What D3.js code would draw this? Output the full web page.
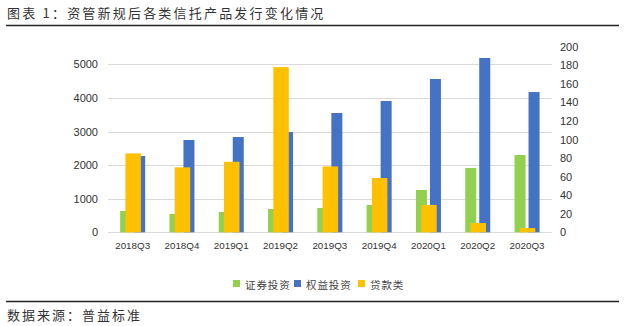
<!DOCTYPE html>
<html><head><meta charset="utf-8">
<script src="https://cdn.jsdelivr.net/npm/d3@7"></script>
<style>body{margin:0;background:#fff}svg{display:block}</style>
</head><body>
<svg id="c" width="625" height="326"></svg>
<script>
const categories = ['2018Q3','2018Q4','2019Q1','2019Q2','2019Q3','2019Q4','2020Q1','2020Q2','2020Q3'];
const securities = [634, 545, 604, 693, 723, 812, 1259, 1914, 2300];   // 证券投资 (left axis)
const equity = [2271, 2747, 2836, 2985, 3551, 3907, 4562, 5188, 4174]; // 权益投资 (left axis)
const loans = [85, 70, 76, 178, 71, 58.5, 29.5, 10, 4.6];              // 贷款类 (right axis)
const leftTicks = [0, 1000, 2000, 3000, 4000, 5000];
const rightTicks = [0, 20, 40, 60, 80, 100, 120, 140, 160, 180, 200];
const seriesNames = ['证券投资', '权益投资', '贷款类'];
const colors = ['#92d050', '#4472c4', '#ffc000'];

const svg = d3.select('#c');
const font = 'Liberation Sans, Arial, sans-serif';
const cjk = '"Noto Sans CJK SC", sans-serif';

// title
svg.append('text').attr('x', 7).attr('y', 17.5).attr('font-family', cjk).attr('font-size', 13)
  .attr('letter-spacing', 2.2).attr('fill', '#333').text('图表 1：资管新规后各类信托产品发行变化情况');
svg.append('line').attr('x1', 6).attr('x2', 619).attr('y1', 25.5).attr('y2', 25.5).attr('stroke', '#222').attr('stroke-width', 1.3);

const x = d3.scaleBand().domain(categories).range([108, 551.7]).padding(0);
const x1 = d3.scaleBand().domain([0, 1]).range([-12.5, 12.5]).paddingInner(0.2143);
const yL = d3.scaleLinear().domain([0, 5500]).range([232.3, 47.5]);
const yR = d3.scaleLinear().domain([0, 200]).range([232.3, 46.7]);

// gridlines
svg.append('g').selectAll('line').data(leftTicks).join('line')
  .attr('x1', 108).attr('x2', 551.7)
  .attr('y1', d => Math.round(yL(d)) + 0.5).attr('y2', d => Math.round(yL(d)) + 0.5)
  .attr('stroke', '#d9d9d9').attr('stroke-width', 1);

// left axis
const gl = svg.append('g').attr('transform', 'translate(98,0)')
  .call(d3.axisLeft(yL).tickValues(leftTicks).tickSize(0).tickPadding(0).tickFormat(d3.format('d')));
gl.select('.domain').remove();
gl.selectAll('text').attr('font-family', font).attr('font-size', 11).attr('fill', '#333');

// right axis
const gr = svg.append('g').attr('transform', 'translate(560,0)')
  .call(d3.axisRight(yR).tickValues(rightTicks).tickSize(0).tickPadding(0).tickFormat(d3.format('d')));
gr.select('.domain').remove();
gr.selectAll('text').attr('font-family', font).attr('font-size', 11).attr('fill', '#333');

// x axis labels
const gx = svg.append('g').attr('transform', 'translate(0,242)')
  .call(d3.axisBottom(x).tickSize(0).tickPadding(0));
gx.select('.domain').remove();
gx.selectAll('text').attr('font-family', font).attr('font-size', 9.8).attr('fill', '#333');

// primary bars
[securities, equity].forEach((vals, si) => {
  svg.append('g').selectAll('rect').data(vals).join('rect')
    .attr('x', (d, i) => x(categories[i]) + x.bandwidth() / 2 + x1(si))
    .attr('width', x1.bandwidth())
    .attr('y', d => yL(d)).attr('height', d => yL(0) - yL(d))
    .attr('fill', colors[si]);
});
// secondary bars
const yw = 15.5;
svg.append('g').selectAll('rect').data(loans).join('rect')
  .attr('x', (d, i) => x(categories[i]) + x.bandwidth() / 2 + 0.5 - yw / 2)
  .attr('width', yw)
  .attr('y', d => yR(d)).attr('height', d => yR(0) - yR(d))
  .attr('fill', colors[2]);

// legend
const legX = [233, 294, 358];
const lg = svg.append('g');
seriesNames.forEach((n, i) => {
  lg.append('rect').attr('x', legX[i]).attr('y', 280).attr('width', 7).attr('height', 7).attr('fill', colors[i]);
  lg.append('text').attr('x', legX[i] + 12).attr('y', 288.5).attr('font-family', cjk).attr('font-size', 10.5)
    .attr('letter-spacing', 0.9).attr('fill', '#444').text(n);
});

// footer
svg.append('line').attr('x1', 6).attr('x2', 619).attr('y1', 301.5).attr('y2', 301.5).attr('stroke', '#222').attr('stroke-width', 1.3);
svg.append('text').attr('x', 7).attr('y', 320).attr('font-family', cjk).attr('font-size', 13)
  .attr('letter-spacing', 2).attr('fill', '#333').text('数据来源：普益标准');
</script>
</body></html>
